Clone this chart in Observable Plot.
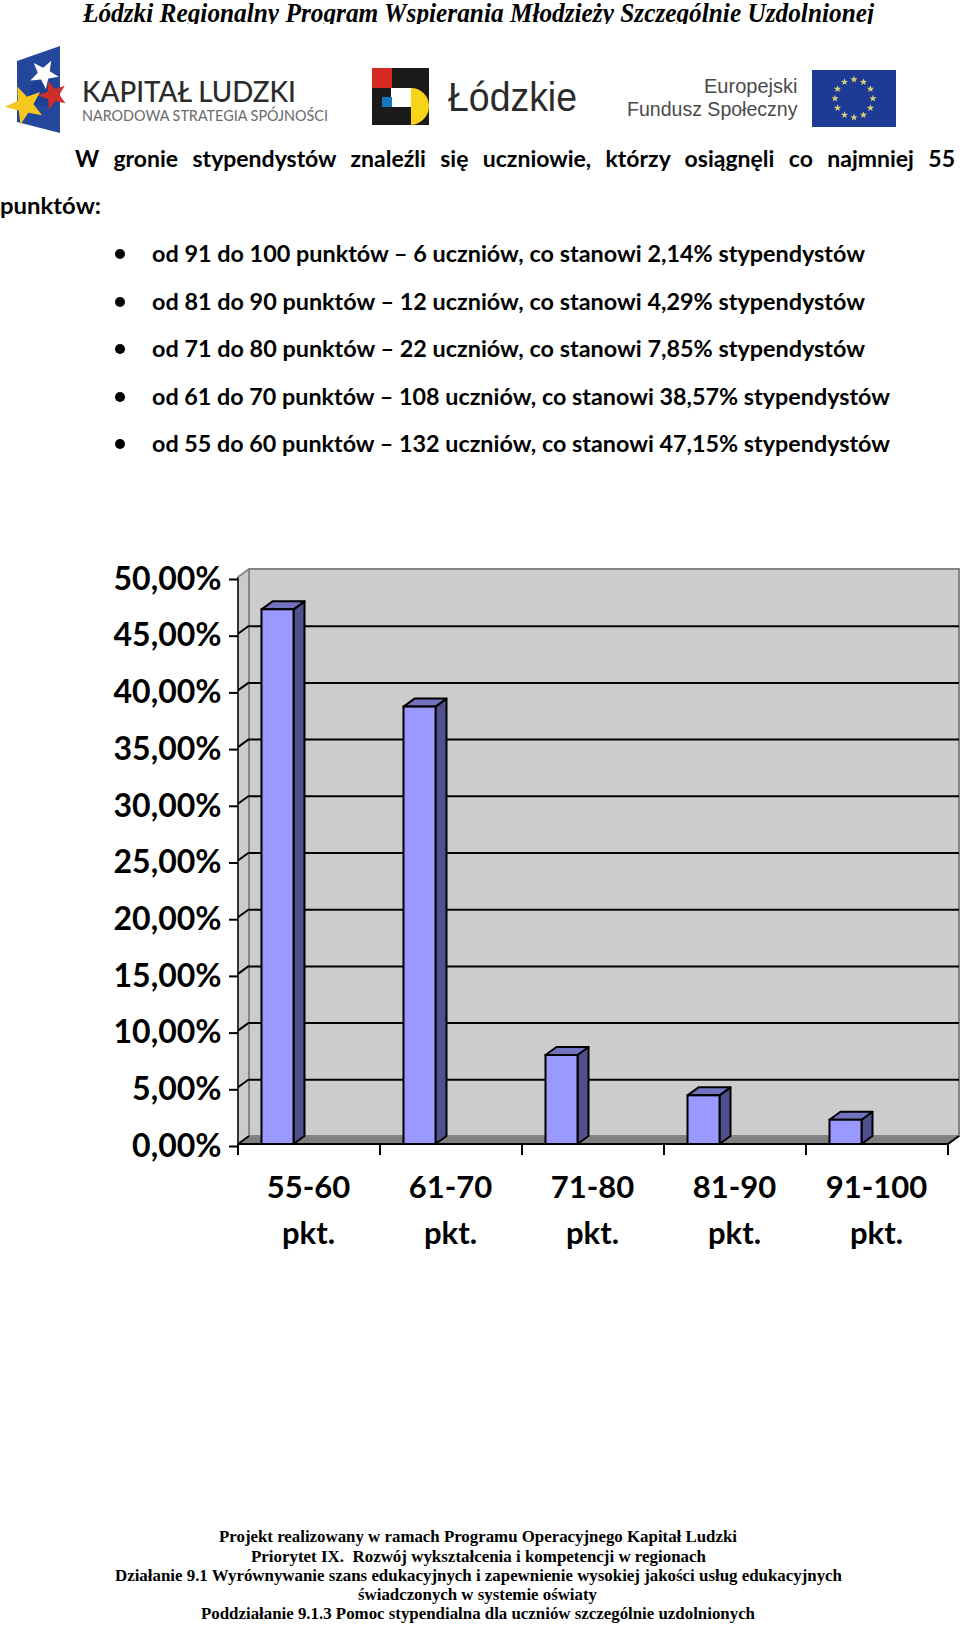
<!DOCTYPE html>
<html lang="pl">
<head>
<meta charset="utf-8">
<script src="https://cdn.jsdelivr.net/npm/d3@7"></script>
<script src="https://cdn.jsdelivr.net/npm/@observablehq/plot@0.6"></script>
<style>
html,body{margin:0;padding:0;background:#fff;width:960px;height:1628px;overflow:hidden}
#page{position:relative;width:960px;height:1628px;overflow:hidden}
.t{position:absolute;white-space:pre;transform-origin:0 50%;color:#000;line-height:1}
#hdrclip{position:absolute;left:0;top:0;width:960px;height:24px;overflow:hidden}
#logos{position:absolute;left:0;top:0}
#chart{position:absolute;left:0;top:520px}
</style>
</head>
<body>
<div id="page">
<div id="hdrclip"></div>
<svg id="logos" width="960" height="140" viewBox="0 0 960 140">
  <polygon points="17,61 60,46 60,133 17,122" fill="#24479b"/>
  <circle cx="42" cy="93" r="13" fill="#1a3f94"/>
  <polygon id="s1" fill="#ffffff"/>
  <polygon id="s2" fill="#cf2f2c"/>
  <polygon id="s3" fill="#f6c81e"/>
  <rect x="372" y="68" width="57" height="57" fill="#1d1a1a"/>
  <rect x="372" y="68" width="20" height="20" fill="#d62a24"/>
  <rect x="391" y="88" width="20" height="19" fill="#ffffff"/>
  <rect x="382" y="88" width="9" height="19" fill="#1d1a1a"/>
  <rect x="382" y="97" width="10" height="10" fill="#1679bd"/>
  <path d="M411,88 A18,18 0 0 1 429,106 A19,19 0 0 1 411,125 Z" fill="#f7d417"/>
  <rect x="812" y="70" width="84" height="57" fill="#1d3a94"/>
  <g id="eu"></g>
</svg>
<div id="chart"></div>
</div>
<script>
// Chart data
const categories = ["55-60 pkt.", "61-70 pkt.", "71-80 pkt.", "81-90 pkt.", "91-100 pkt."];
const shares = [47.15, 38.57, 7.85, 4.29, 2.14];
const yTicks = [0, 5, 10, 15, 20, 25, 30, 35, 40, 45, 50];

// Page texts
const headerText = "Łódzki Regionalny Program Wspierania Młodzieży Szczególnie Uzdolnionej";
const introLines = ["W gronie stypendystów znaleźli się uczniowie, którzy osiągnęli co najmniej 55", "punktów:"];
const bulletLines = [
  "od 91 do 100 punktów – 6 uczniów, co stanowi 2,14% stypendystów",
  "od 81 do 90 punktów – 12 uczniów, co stanowi 4,29% stypendystów",
  "od 71 do 80 punktów – 22 uczniów, co stanowi 7,85% stypendystów",
  "od 61 do 70 punktów – 108 uczniów, co stanowi 38,57% stypendystów",
  "od 55 do 60 punktów – 132 uczniów, co stanowi 47,15% stypendystów"
];
const footerLines = [
  "Projekt realizowany w ramach Programu Operacyjnego Kapitał Ludzki",
  "Priorytet IX.  Rozwój wykształcenia i kompetencji w regionach",
  "Działanie 9.1 Wyrównywanie szans edukacyjnych i zapewnienie wysokiej jakości usług edukacyjnych",
  "świadczonych w systemie oświaty",
  "Poddziałanie 9.1.3 Pomoc stypendialna dla uczniów szczególnie uzdolnionych"
];

const page = document.getElementById("page");
function put(text, x, cy, width, font, color, parent, wordFit) {
  const el = document.createElement("div");
  el.className = "t";
  el.textContent = text;
  el.style.left = x + "px";
  el.style.font = font;
  el.style.lineHeight = "1";
  if (color) el.style.color = color;
  (parent || page).appendChild(el);
  const r = el.getBoundingClientRect();
  el.style.top = (cy - r.height / 2) + "px";
  if (wordFit) {
    const gaps = text.split(" ").length - 1;
    el.style.wordSpacing = ((width - r.width) / gaps) + "px";
  } else if (width) {
    el.style.transform = `scaleX(${width / r.width})`;
  }
  return el;
}
const BODY = '700 23px Lato';
const SERIF = '700 17.5px "Liberation Serif"';
put(headerText, 83, 13, 791, 'italic 700 27px "Liberation Serif"', "#000", document.getElementById("hdrclip"));
put("KAPITAŁ LUDZKI", 82, 90, 214, '500 29px Lato', "#2b2b2b");
put("NARODOWA STRATEGIA SPÓJNOŚCI", 82, 115, 246, '400 16px Lato', "#6a6a6a");
put("Łódzkie", 448, 97, 129, '400 40px "Liberation Sans"', "#2b2b2b");
put("Europejski", 704, 85, 93.5, '400 21px "Liberation Sans"', "#4a4a4a");
put("Fundusz Społeczny", 627, 108, 170.5, '400 21px "Liberation Sans"', "#4a4a4a");
put(introLines[0], 75, 158.5, 880, BODY, "#000", null, true);
put(introLines[1], 0, 205.5, 101, BODY);
const bulletY = [253, 301, 348, 396, 443];
const bulletW = [713, 713, 713, 738, 738];
bulletLines.forEach((s, i) => {
  put(s, 152, bulletY[i], bulletW[i], BODY);
  const b = document.createElement("div");
  b.style.cssText = `position:absolute;left:115px;top:${bulletY[i] - 4}px;width:10px;height:10px;border-radius:50%;background:#000`;
  page.appendChild(b);
});
const footerY = [1537, 1557, 1576, 1595, 1614];
const footerX = [219, 251, 115, 358, 201];
const footerW = [518, 455, 727, 239, 554];
footerLines.forEach((s, i) => put(s, footerX[i], footerY[i], footerW[i], SERIF));

// Logo stars
function star(cx, cy, r, rot) {
  return d3.range(10).map(i => {
    const a = rot + i * Math.PI / 5, q = i % 2 ? r * 0.42 : r;
    return [(cx + q * Math.sin(a)).toFixed(1), (cy - q * Math.cos(a)).toFixed(1)].join(",");
  }).join(" ");
}
document.getElementById("s1").setAttribute("points", star(44, 74, 15, 0.5));
document.getElementById("s2").setAttribute("points", star(53, 95, 15, 0.9));
document.getElementById("s3").setAttribute("points", star(25, 105, 20, -0.4));
const eu = d3.select("#eu");
d3.range(12).forEach(i => {
  const a = i * Math.PI / 6;
  eu.append("polygon").attr("fill", "#d8cf78")
    .attr("points", star(854 + 19 * Math.sin(a), 98.5 - 19 * Math.cos(a), 3.8, 0));
});

// Chart geometry
const DX = 11, DY = 8;
const BAR_LEFT = 23.5, BAR_W = 32;
const fmt = d => d.toFixed(2).replace(".", ",") + "%";
const rows = categories.map((c, i) => ({category: c, share: shares[i]}));
const poly = (g, pts, fill, stroke, sw) =>
  g.append("polygon").attr("points", pts.map(p => p.join(",")).join(" "))
    .attr("fill", fill).attr("stroke", stroke || "none").attr("stroke-width", sw || 0)
    .attr("stroke-linejoin", "round");

function walls(index, {x, y}, values, {width, marginLeft, marginRight}) {
  const g = d3.create("svg:g");
  const L = marginLeft, R = width - marginRight, T = y(50), B = y(0);
  poly(g, [[L, B], [L + DX, B - DY], [R + DX, B - DY], [R, B]], "#808080");
  poly(g, [[L, T], [L + DX, T - DY], [L + DX, B - DY], [L, B]], "#cbcbcb");
  g.append("rect").attr("x", L + DX).attr("y", T - DY).attr("width", R - L).attr("height", B - T)
    .attr("fill", "#cccccc").attr("stroke", "#868686").attr("stroke-width", 2);
  return g.node();
}
function frameLines(index, {x, y}, values, {width, marginLeft, marginRight}) {
  const g = d3.create("svg:g").attr("stroke", "#000").attr("stroke-width", 2).attr("fill", "none");
  const L = marginLeft, R = width - marginRight, T = y(50), B = y(0);
  const line = (x1, y1, x2, y2, c) => g.append("line").attr("x1", x1).attr("y1", y1).attr("x2", x2).attr("y2", y2).attr("stroke", c || "#000");
  line(L, T, L, B, "#333");
  line(L, B, R, B);
  yTicks.forEach(v => line(L, y(v), L + DX, y(v) - DY, v === 50 ? "#868686" : "#000"));
  line(R, B, R + DX, B - DY);
  const step = (R - L) / categories.length;
  d3.range(categories.length + 1).forEach(i => line(L + i * step, B, L + i * step, B + 11));
  return g.node();
}
function barDepth(index, {x, y}) {
  const g = d3.create("svg:g");
  rows.forEach(d => {
    const l = x(d.category) + BAR_LEFT, r = l + BAR_W, t = y(d.share), b = y(0);
    poly(g, [[r, b], [r + DX, b - DY], [r + DX, t - DY], [r, t]], "#50508c", "#000", 2);
    poly(g, [[l, t], [l + DX, t - DY], [r + DX, t - DY], [r, t]], "#7272c0", "#000", 2);
  });
  return g.node();
}

const plot = Plot.plot({
  width: 960,
  height: 760,
  marginTop: 57,
  marginBottom: 136,
  marginLeft: 238,
  marginRight: 12,
  style: {fontFamily: "Lato", background: "transparent", color: "#000"},
  x: {domain: categories, padding: 0, label: null},
  y: {domain: [0, 50], label: null},
  marks: [
    walls,
    Plot.ruleY(yTicks.filter(v => v > 0 && v < 50), {
      y: d => d, dx: DX, dy: -DY, stroke: "#000", strokeWidth: 2
    }),
    barDepth,
    Plot.barY(rows, {
      x: "category", y: "share", fill: "#9999ff", stroke: "#000", strokeWidth: 2,
      insetLeft: BAR_LEFT, insetRight: 142 - BAR_LEFT - BAR_W
    }),
    frameLines,
    Plot.axisY({
      ticks: yTicks, tickFormat: fmt, tickSize: 9, tickPadding: 8, strokeWidth: 2,
      fontSize: 32, fontWeight: 700, label: null, dy: 2, stroke: "#000"
    }),
    Plot.axisX({
      tickSize: 0, tickPadding: 21, fontSize: 31, fontWeight: 700, label: null, lineHeight: 1.48,
      tickFormat: d => d.replace(" ", "\n"), dx: -1
    })
  ]
});
document.getElementById("chart").appendChild(plot);
</script>
</body>
</html>
